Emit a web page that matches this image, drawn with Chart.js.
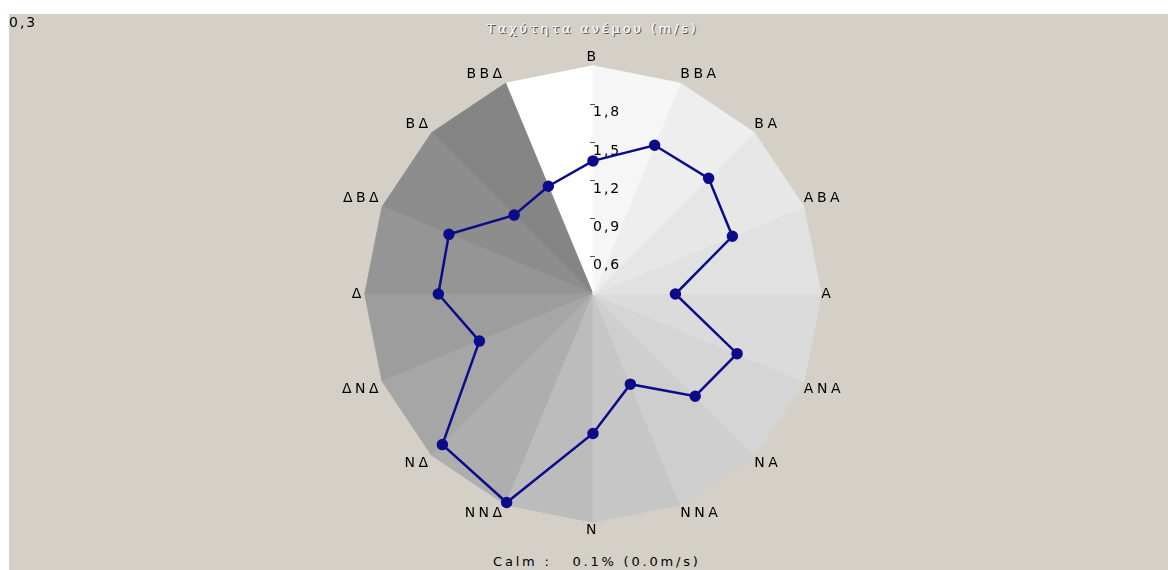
<!DOCTYPE html>
<html>
<head>
<meta charset="utf-8">
<script src="https://cdn.jsdelivr.net/npm/chart.js@4.4.0/dist/chart.umd.min.js"></script>
<style>
  html, body { margin: 0; padding: 0; background: #fff; }
  body { width: 1168px; height: 570px; position: relative; overflow: hidden; }
  #panel { position: absolute; left: 9px; top: 14px; right: 0; bottom: 0; background: #d4d0c8; }
  #wrap { position: absolute; left: 0; top: 0; width: 1168px; height: 570px; }
  .txt { position: absolute; font-family: "DejaVu Sans"; font-size: 13px; letter-spacing: 2.8px; white-space: pre; line-height: 15px; }
  #title { left: 487px; top: 21px; color: #fff; text-shadow: 1px 1px 0 #505050; }
  #calm { left: 493px; top: 554px; color: #000; }
</style>
</head>
<body>
<div id="panel"></div>
<div class="txt" id="title">Ταχύτητα ανέμου (m/s)</div>
<div class="txt" id="calm"></div>
<div id="wrap"><canvas id="rose"></canvas></div>
<script>
// Directions, clockwise from north
const directions = ['Β', 'ΒΒΑ', 'ΒΑ', 'ΑΒΑ', 'Α', 'ΑΝΑ', 'ΝΑ', 'ΝΝΑ', 'Ν', 'ΝΝΔ', 'ΝΔ', 'ΔΝΔ', 'Δ', 'ΔΒΔ', 'ΒΔ', 'ΒΒΔ'];
// Mean wind speed per direction (m/s)
const windSpeed = [1.35, 1.57, 1.59, 1.49, 0.95, 1.53, 1.44, 1.07, 1.40, 2.08, 1.98, 1.27, 1.52, 1.53, 1.18, 1.22];
// Radial axis
const scaleMin = 0.3;
const scaleMax = 2.1;
const scaleStep = 0.3;
// Calm
const calmPercent = 0.1;
const calmSpeed = 0.0;

// Sector shades, sector k goes from direction k to direction k+1
const sectorShades = [
  '#f6f6f6', '#eeeeee', '#e7e7e7', '#e1e1e1', '#dbdbdb', '#d5d5d5', '#cecece', '#c6c6c6',
  '#bcbcbc', '#aeaeae', '#a6a6a6', '#9d9d9d', '#959595', '#8d8d8d', '#858585', '#ffffff'
];

document.getElementById('calm').textContent =
  'Calm :   ' + calmPercent.toFixed(1) + '% (' + calmSpeed.toFixed(1) + 'm/s)';

const fmt = v => v.toFixed(1).replace('.', ',');

// wedge datasets built from the scale limits
const sectorSets = sectorShades.map((shade, k) => ({
  data: directions.map((d, i) => (i === k || i === (k + 1) % directions.length) ? scaleMax : scaleMin),
  backgroundColor: shade,
  borderColor: shade,
  borderWidth: 1,
  pointRadius: 0,
  fill: 'start'
}));

// letter spacing for canvas text
const spacingPlugin = {
  id: 'spacing',
  beforeUpdate(chart) { chart.ctx.letterSpacing = '3.5px'; },
  beforeDraw(chart) { chart.ctx.letterSpacing = '3.5px'; }
};

// tick marks and labels drawn to the right of the north axis
const tickPlugin = {
  id: 'sideTicks',
  afterDatasetDraw(chart, args) {
    if (args.index !== 1) return;
    const scale = chart.scales.r;
    const ctx = chart.ctx;
    ctx.save();
    ctx.letterSpacing = '2px';
    ctx.font = '14px "DejaVu Sans"';
    ctx.fillStyle = '#000';
    ctx.strokeStyle = '#555';
    ctx.lineWidth = 1;
    ctx.textAlign = 'left';
    ctx.textBaseline = 'top';
    scale.ticks.forEach(t => {
      if (t.value <= scaleMin + 1e-9 || t.value >= scaleMax - 1e-9) return;
      const y = scale.yCenter - scale.getDistanceFromCenterForValue(t.value);
      ctx.beginPath();
      ctx.moveTo(scale.xCenter - 3, Math.round(y) + 0.5);
      ctx.lineTo(scale.xCenter + 2, Math.round(y) + 0.5);
      ctx.stroke();
      ctx.fillText(fmt(t.value), scale.xCenter, y + 2);
    });
    // minimum value is written in the corner
    ctx.fillText(fmt(scale.min), 9, 16);
    ctx.restore();
  }
};

new Chart(document.getElementById('rose'), {
  type: 'radar',
  data: {
    labels: directions,
    datasets: [{
      label: 'Ταχύτητα ανέμου (m/s)',
      data: windSpeed,
      borderColor: '#0c0c8a',
      backgroundColor: '#0c0c8a',
      pointBackgroundColor: '#0c0c8a',
      pointBorderColor: '#0c0c8a',
      borderWidth: 2.5,
      pointRadius: 4.5,
      fill: false
    }, ...sectorSets]
  },
  options: {
    responsive: true,
    maintainAspectRatio: false,
    animation: false,
    layout: { padding: { left: 18, right: 0, top: 49, bottom: 31 } },
    plugins: {
      legend: { display: false },
      tooltip: { enabled: false },
      title: { display: false }
    },
    elements: { line: { tension: 0 } },
    scales: {
      r: {
        min: scaleMin,
        max: scaleMax,
        ticks: { stepSize: scaleStep, display: false },
        grid: { display: false },
        angleLines: { display: false },
        pointLabels: {
          color: '#000',
          padding: 0,
          font: { family: 'DejaVu Sans', size: 14 }
        }
      }
    }
  },
  plugins: [spacingPlugin, tickPlugin]
});
</script>
</body>
</html>
